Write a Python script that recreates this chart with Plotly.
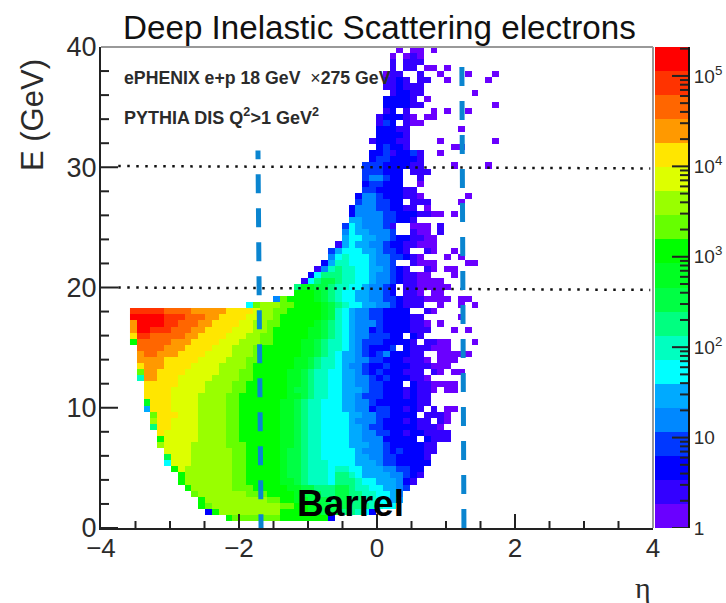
import numpy as np
import plotly.graph_objects as go

W, H = 726, 603
PLOT_L, PLOT_R, PLOT_T, PLOT_B = 101, 653, 47, 528
BAR_L, BAR_R = 655, 688

# Histogram bands, one entry per row from the top (E=40) down.
# Each character is a colour-contour index (0-9, a-j = 0..19); '.' is an empty bin.
ROW_START = [39, 38, 38, 38, 37, 37, 37, 38, 37, 37, 37, 36, 36, 36, 36, 35, 36, 35, 35, 34,
             34, 34, 34, 34, 33, 33, 32, 32, 32, 31, 31, 31, 30, 29, 29, 28, 27, 26, 25, 24,
             24, 21, 17] + [0] * 35
ROW_LEVELS = [
    "0.00.0", "0.010", "1.111", "1.11.00.0", "011..1..0...0...0", "1121.11..0.....0", "112111",
    "12211.......0", "22221.0", "222211..........0", "12.1...0.0..0", "122210.00", "132.100",
    "22211.......0", "22221", "122211....0.......0", "23221......00", "22312231..0", "23322221",
    "333222211....0....0", "333222.111", "344322..1", "233222..0", "33222211",
    "2443222110......0", "3443322.111....0", "2444332211.0", "24444332221100.0", "5544433221",
    "36544431..000.1", "46554443..100.1", "56655443221100", "156554432211000",
    "356665543321..10..0", "46766654433210...0.0", "25776665443..1000....00",
    "14787766554321..10.00", "268887766544321100...0", "168998776654432110000",
    "8aa998776654432.1100000",
    "bbba98 766554432. 110.00",
    "4cbbbba98 7665544332 1110000.00",
    "6cd ddccbbbba9 8766554432 111..0..0. 0",
    "iiiiihhhhg ggggffffed dccbbbbba9 7654433222 2..10",
    "jjjjjiiihh hggffffeed dcbbbbbba9 7654433222 211.....0.",
    "gjjjjiihhh ggffffeedd ccbbbbba98 7654443222 2110.0",
    "gjjiiihhhg gffffeeedd cbbbbbaa98 7654423222 2111...0.0",
    "fiihhhhhgg ffffeeeddc cbbbbbaa98 7654433322 .21",
    "bhhhhhgggf fffeeedddc cbbbbaa987 7654333222 21.1100... 0",
    ".hhhhgggff ffeeedddcb bbbbbaa987 765432223. 2111000",
    ".ghhgggfff feeeedddcb bbbbbaa987 6554323422 211..00000",
    ".ggggfffff eeeedddccb bbbbaa9877 6554433222 1110.000",
    ".fgggffffe eeeddddcbb bbbbaa9877 6544322322 2111000",
    ".cggffffee eeedddccbb bbbaa98776 6554323222 111.10.00",
    ".7ggfffeee eeddddccbb bbbaa98776 6554432322 2110",
    "..fffffeee eddddccbbb bbbaa98776 6554433222 .2110000",
    "..ffffeeee eddddccbbb bbba998776 6555433222 12110.00",
    "..ffffeeee ddddccbbbb bbbaa98776 6554333222 1211",
    "..afffeeee ddddccbbbb bbaa987766 6554432222 2211",
    "..5fffeeee ddddccbbbb bbaa987766 6554423322 121.1.00",
    "...cfffeee ddddccbbbb bbaa987766 6655443322 22.1110",
    "...dffeeee ddddccbbbb bbaa987766 6654443222 1211.10",
    "...8ffeeee ddddccbbbb bbaa987766 6655433222 221110",
    "....feeeee ddddccbbbb bbaa987766 6655443322 1221111",
    "....beeeee ddddccbbbb bbaa987766 6655444222 22.2111",
    "....deeeed ddddcccbbb bbaa987766 6655544322 22211",
    ".....eeeed dddddccbbb bba9987766 6665444323 22211",
    ".....9eeed dddddccbbb bba9987766 6665544332 2221",
    ".....6eeed dddddccbbb bba9987776 6665554332 2222",
    "......bedd dddddccbbb bba9987776 7766555443 322",
    ".......bdd dddddccbbb bba9987776 8876555544 321",
    ".......bdd dddddccbbb bbaa987776 8887665554 21",
    "........bd dddddcccbb bbbaa99888 9987766554 3",
    ".........c dddddddccc bbbba99988 9988776654",
    ".......... bddddddddd ccbbaa9998 9988776655",
    ".......... bcdddddddd ddccbbaa99 998887766",
    ".......... .2bddddddd ddbbbbaa99 988762",
    ".......... ....bccccc ccbbbbbbb2",
]

# Histogram binning
N_COLS = 54
ETA_FIRST_EDGE, ETA_BIN = -3.58, 0.0991
E_TOP, E_BOTTOM = 40.0, 0.59

# Colour contours (bottom to top) and log10 z range
LEVEL_COLORS = ["#6a00ff", "#3300ff", "#0000ff", "#0038ff", "#0088ff", "#00aaff", "#00ffff",
                "#00ffc0", "#00ff80", "#00ff44", "#00ff22", "#00ff00", "#66ff00", "#99ff00",
                "#ddff00", "#ffe600", "#ff9900", "#ff6600", "#ff3300", "#ff0000"]
LOG_ZMAX = 5.32
Z_TICKS = [1, 10, 100, 1000, 10000, 100000]
Z_LABELS = ["1", "10", "10<sup>2</sup>", "10<sup>3</sup>", "10<sup>4</sup>", "10<sup>5</sup>"]
Z_MINOR = [2, 3, 4, 5, 6, 7, 8, 9, 20, 30, 40, 50, 60, 70, 80, 90, 200, 300, 400, 500, 600, 700,
           800, 900, 2000, 3000, 4000, 5000, 6000, 7000, 8000, 9000, 20000, 30000, 40000, 50000,
           60000, 70000, 80000, 90000, 200000]

# Axis ticks
X_TICKS = [-4, -2, 0, 2, 4]
X_MINOR = [-3.5, -3, -2.5, -1.5, -1, -0.5, 0.5, 1, 1.5, 2.5, 3, 3.5]
Y_TICKS = [0, 10, 20, 30, 40]
Y_MINOR = [2, 4, 6, 8, 12, 14, 16, 18, 22, 24, 26, 28, 32, 34, 36, 38]

# Guide lines
BARREL_LEFT_ETA, BARREL_LEFT_E = [-1.68, -1.725], [-0.44, 31.4]
BARREL_RIGHT_ETA, BARREL_RIGHT_E = [1.26, 1.23], [0.0, 38.7]
LINE30_ETA, LINE30_E = [-3.75, 3.96], [30.1, 29.9]
LINE20_ETA, LINE20_E = [-3.75, 3.96], [20.0, 19.8]

n_rows = len(ROW_LEVELS)
dz = LOG_ZMAX / len(LEVEL_COLORS)
grid = [[None] * N_COLS for _ in range(n_rows)]
for r, (start, text) in enumerate(zip(ROW_START, ROW_LEVELS)):
    for i, ch in enumerate(text.replace(" ", "")):
        if ch != "." and start + i < N_COLS:
            grid[r][start + i] = (int(ch, 20) + 0.5) * dz
grid = grid[::-1]
y_edges = np.linspace(E_BOTTOM, E_TOP, n_rows + 1)
x_edges = ETA_FIRST_EDGE + ETA_BIN * np.arange(N_COLS + 1)

n = len(LEVEL_COLORS)
scale = []
for i, c in enumerate(LEVEL_COLORS):
    scale += [[i / n, c], [(i + 1) / n, c]]

fx = lambda p: p / W
fy = lambda p: 1 - p / H
TEXT = "#2b2b2b"
FONT = "Liberation Sans"
DARK = "#222222"

fig = go.Figure()
fig.add_trace(go.Heatmap(x=x_edges, y=y_edges, z=grid, zmin=0, zmax=LOG_ZMAX, colorscale=scale,
                         showscale=False, hoverinfo="skip", xaxis="x", yaxis="y"))
for xs, ys in [(LINE30_ETA, LINE30_E), (LINE20_ETA, LINE20_E)]:
    fig.add_trace(go.Scatter(x=xs, y=ys, mode="lines", showlegend=False, hoverinfo="skip",
                             line=dict(color="#111111", width=2.5, dash="2.5px,6.5px")))
for xs, ys in [(BARREL_LEFT_ETA, BARREL_LEFT_E), (BARREL_RIGHT_ETA, BARREL_RIGHT_E)]:
    fig.add_trace(go.Scatter(x=xs, y=ys, mode="lines", showlegend=False, hoverinfo="skip",
                             cliponaxis=False,
                             line=dict(color="#0a85d0", width=5, dash="19px,15px")))

# Colour scale drawn on its own logarithmic axis
bar_edges = [10 ** (i * dz) for i in range(n + 1)]
bar_z = [[(i + 0.5) * dz] for i in range(n)]
fig.add_trace(go.Heatmap(x=[0, 1], y=bar_edges, z=bar_z, zmin=0, zmax=LOG_ZMAX, colorscale=scale,
                         showscale=False, hoverinfo="skip", xaxis="x2", yaxis="y2"))

# Tick marks inside the frames, long and short, one two-point line per tick
def tick_marks(values, start, length, vertical, xaxis="x", yaxis="y"):
    for v in values:
        along, across = [v, v], [start, start + length]
        xs, ys = (along, across) if vertical else (across, along)
        fig.add_trace(go.Scatter(x=xs, y=ys, mode="lines", xaxis=xaxis, yaxis=yaxis, showlegend=False,
                                 hoverinfo="skip", cliponaxis=False,
                                 line=dict(color=DARK, width=2)))

E_PER_PX = 40 / (PLOT_B - PLOT_T)
ETA_PER_PX = 8 / (PLOT_R - PLOT_L)
BAR_PER_PX = 1 / (BAR_R - BAR_L)
tick_marks(X_TICKS[1:], 0, 14 * E_PER_PX, True)
tick_marks(X_MINOR, 0, 7 * E_PER_PX, True)
tick_marks(Y_TICKS, -4, 17 * ETA_PER_PX, False)
tick_marks(Y_MINOR, -4, 8 * ETA_PER_PX, False)
tick_marks(Z_TICKS, 1, -16 * BAR_PER_PX, False, "x2", "y2")
tick_marks(Z_MINOR, 1, -8 * BAR_PER_PX, False, "x2", "y2")

axis_line = dict(showline=True, linecolor=DARK, linewidth=2, showgrid=False, zeroline=False)
x_dom, y_dom = [fx(PLOT_L), fx(PLOT_R)], [fy(PLOT_B), fy(PLOT_T)]
fig.update_layout(
    template="none",
    width=W, height=H, margin=dict(l=0, r=0, t=0, b=0, autoexpand=False), showlegend=False,
    paper_bgcolor="white", plot_bgcolor="white", font=dict(family=FONT, color=TEXT),
    xaxis=dict(domain=x_dom, range=[-4, 4], tickmode="array", tickvals=X_TICKS,
               ticktext=["\u22124", "\u22122", "0", "2", "4"], ticks="",
               tickfont=dict(size=26, color=TEXT), ticklabelstandoff=-4, anchor="y", **axis_line),
    yaxis=dict(domain=y_dom, range=[0, 40], tickmode="array", tickvals=Y_TICKS, ticks="",
               tickfont=dict(size=27, color=TEXT), ticklabelstandoff=-3, anchor="x", **axis_line),
    xaxis2=dict(domain=[fx(BAR_L), fx(BAR_R)], range=[0, 1], visible=False, anchor="y2"),
    yaxis2=dict(domain=y_dom, type="log", range=[0, LOG_ZMAX], side="right",
                anchor="x2", tickmode="array", tickvals=Z_TICKS, ticktext=Z_LABELS, ticks="",
                tickfont=dict(size=19, color=TEXT),
                showgrid=False, zeroline=False, showline=True, linecolor="#111111", linewidth=2),
)
# Grey top/right frame of the plot
for s in [dict(x0=1, x1=1, y0=0, y1=1), dict(x0=0, x1=1, y0=1, y1=1)]:
    fig.add_shape(type="line", xref="x domain", yref="y domain", line=dict(color="#999999", width=2), **s)

def label(text, px, py, size, color=TEXT, anchor="center", family=FONT, angle=0):
    fig.add_annotation(text=text, x=fx(px), y=fy(py), xref="paper", yref="paper", showarrow=False,
                       xanchor=anchor, yanchor="middle", textangle=angle,
                       font=dict(size=size, color=color, family=family))

label("Deep Inelastic Scattering electrons", 380, 27, 33.2, "#111111")
label("E (GeV)", 32, 115, 31, angle=-90)
label("\u03b7", 643, 587, 30, family="Liberation Serif")
label("<b>ePHENIX e+p 18 GeV</b>  \u00d7<b>275 GeV</b>", 122, 78, 17.7, anchor="left")
label("<b>PYTHIA DIS Q<sup>2</sup>>1 GeV<sup>2</sup></b>", 122, 116, 18, anchor="left")
label("<b>Barrel</b>", 350, 503, 37, "#000000")

fig.write_html("out.html", config=dict(displayModeBar=False),
               post_script="document.body.style.margin='0';document.documentElement.style.overflow='hidden';")
